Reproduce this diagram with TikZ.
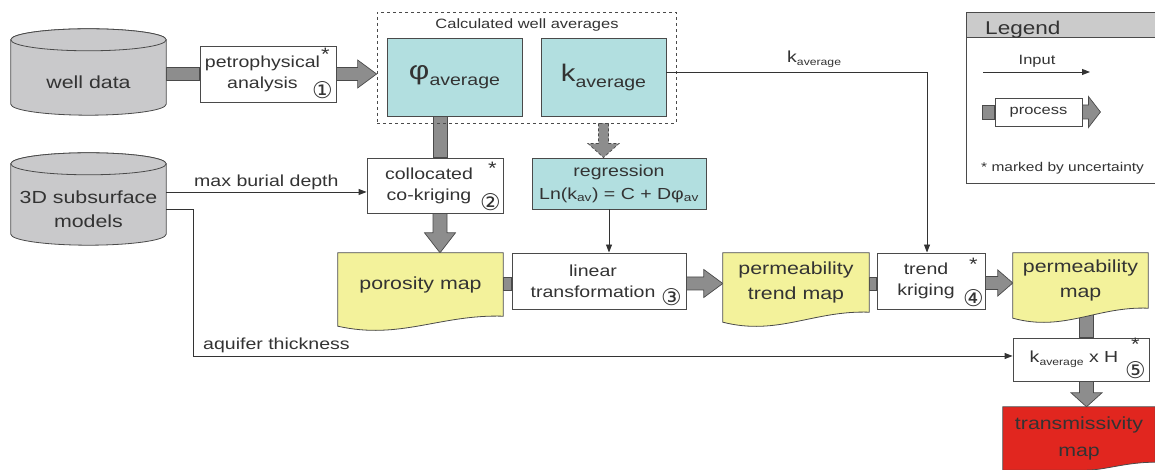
\documentclass[tikz,border=0pt]{standalone}
\usepackage{fontspec}
\setmainfont{Liberation Sans}[FakeStretch=1.22]
\newfontfamily\symf{DejaVu Sans}
\usetikzlibrary{calc,arrows.meta}
\pgfdeclarelayer{bg}
\pgfsetlayers{bg,main}
\definecolor{lc}{HTML}{4A4A4A}
\definecolor{tc}{HTML}{333333}
\definecolor{fatc}{HTML}{8D8D8D}
\definecolor{cylc}{HTML}{C9C9CB}
\definecolor{cyanc}{HTML}{B2DFE0}
\definecolor{yelc}{HTML}{F3F29B}
\definecolor{redc}{HTML}{E1261F}
\definecolor{legc}{HTML}{CBCBCB}
\newcommand{\fsz}[2]{\fontsize{#1}{#2}\selectfont}
\newcommand{\FatArrR}[5]{\draw[fat] let \p1=#1, \p2=#2 in (\x1,{\y2+#3}) -- ({\x2-#5},{\y2+#3}) -- ({\x2-#5},{\y2+#4}) -- (\x2,\y2) -- ({\x2-#5},{\y2-#4}) -- ({\x2-#5},{\y2-#3}) -- (\x1,{\y2-#3}) -- cycle;}
\newcommand{\FatArrD}[6][]{\draw[fat,#1] let \p1=#2, \p2=#3 in ({\x2+#4},\y1) -- ({\x2+#4},{\y2+#6}) -- ({\x2+#5},{\y2+#6}) -- (\x2,\y2) -- ({\x2-#5},{\y2+#6}) -- ({\x2-#4},{\y2+#6}) -- ({\x2-#4},\y1) -- cycle;}
\newcommand{\FatBarR}[3]{\draw[fat] let \p1=#1, \p2=#2 in (\x1,{\y2-#3}) rectangle (\x2,{\y2+#3});}
\newcommand{\FatBarD}[3]{\draw[fat] let \p1=#1, \p2=#2 in ({\x2-#3},\y1) rectangle ({\x2+#3},\y2);}
\newcommand{\CylShape}[1]{%
  \draw[cylsty] let \p1=(#1.north west), \p2=(#1.south east) in
    (\x1,{\y1-11pt}) -- (\x1,{\y2+11pt}) arc[start angle=180,end angle=360,x radius={(\x2-\x1)/2},y radius=11pt]
    -- (\x2,{\y1-11pt}) arc[start angle=0,end angle=180,x radius={(\x2-\x1)/2},y radius=11pt] -- cycle;
  \draw[cylsty] let \p1=(#1.north west), \p2=(#1.north east) in
    ({(\x1+\x2)/2},{\y1-11pt}) ellipse[x radius={(\x2-\x1)/2},y radius=11pt];}
\newcommand{\DocShape}[2]{%
  \draw[draw=lc,line width=0.8pt,fill=#2] let \p1=(#1.south west), \p2=(#1.south east) in
    (#1.north west) -- (#1.north east) -- (#1.south east)
    .. controls ({0.62*\x2+0.38*\x1},{\y2+2pt}) and ({0.625*\x1+0.375*\x2},{\y1-24pt}) .. (\x1,{\y1-10pt}) -- cycle;}
\tikzset{
  txt/.style={inner sep=0pt,align=center,text=tc},
  pbox/.style={txt,draw=lc,line width=0.9pt,fill=white,font=\fsz{16}{21}},
  cbox/.style={pbox,fill=cyanc},
  cn/.style={txt,font={\symf\fsz{23}{23}}},
  ast/.style={txt,font=\fsz{18}{18}},
  fat/.style={fill=fatc,draw=lc,line width=0.7pt,line join=miter},
  cylsty/.style={fill=cylc,draw=lc,line width=0.8pt},
  input/.style={draw=tc,line width=0.9pt,-{Triangle[length=8pt,width=6pt]}},
}
\begin{document}
\begin{tikzpicture}[x=1pt,y=1pt]
\useasboundingbox (0,0) rectangle (1155,470);
% ---- nodes ----
\node[txt,minimum width=155pt,minimum height=86pt] (wd) at (88.5,398) {};
\node[txt,font=\fsz{17.5}{24}] (wdt) at (88.5,388) {well data};
\node[txt,minimum width=155pt,minimum height=92pt] (sm) at (88.5,271) {};
\node[txt,font=\fsz{17.5}{24}] (smt) at (88.5,261) {3D subsurface\\models};

\node[pbox,minimum width=136pt,minimum height=56pt] (pa) at (268,396) {petrophysical\hspace*{11pt}\\analysis\hspace*{11pt}};
\node[draw=lc,dashed,line width=0.8pt,minimum width=299pt,minimum height=111pt,inner sep=0pt] (cwa) at (526.5,402.5) {};
\node[txt,font=\fsz{13.5}{15}] (cwat) at (527,445) {Calculated well averages};
\node[cbox,minimum width=135pt,minimum height=78pt,font=\fsz{26}{28}] (phi) at (454.5,393) {φ\raisebox{-6pt}{\fsz{16}{16}average}};
\node[cbox,minimum width=125pt,minimum height=78pt,font=\fsz{24}{28}] (kav) at (603.5,393) {k\raisebox{-6pt}{\fsz{16}{16}average}};
\node[txt,anchor=base west,font=\fsz{16}{16}] (klab) at (787,407) {k\raisebox{-3pt}{\fsz{10}{10}average}};

\node[pbox,minimum width=136pt,minimum height=55pt] (ck) at (435,284.5) {collocated\hspace*{12pt}\\co-kriging\hspace*{12pt}};
\node[cbox,minimum width=174pt,minimum height=51pt,font=\fsz{16}{23}] (reg) at (619,286.5) {regression\\Ln(k\textsubscript{av}) = C + Dφ\textsubscript{av}};

\node[txt,minimum width=165pt,minimum height=63pt,font=\fsz{17.5}{24}] (pm) at (420.5,185.5) {porosity map};
\node[pbox,minimum width=174pt,minimum height=56pt] (lt) at (599,189) {linear\hspace*{12pt}\\transformation\hspace*{12pt}};
\node[txt,minimum width=146pt,minimum height=59pt,font=\fsz{17.5}{25}] (ptm) at (796,187.5) {permeability\\trend map};
\node[pbox,minimum width=108pt,minimum height=56pt] (tk) at (931,189) {trend\hspace*{10pt}\\kriging\hspace*{10pt}};
\node[txt,minimum width=135pt,minimum height=55pt,font=\fsz{17.5}{25}] (pmap) at (1080.5,189.5) {permeability\\map};
\node[pbox,minimum width=136pt,minimum height=43pt] (kh) at (1081,110.5) {k\raisebox{-3pt}{\fsz{10}{10}average} x H\hspace*{14pt}};
\node[txt,minimum width=152pt,minimum height=63pt,font=\fsz{17.5}{27}] (tm) at (1079,31.5) {transmissivity\\map};

% circled numbers and asterisks
\node[cn] (c1) at ($(pa.south east)+(-14,12)$) {①};
\node[ast] (s1) at ($(pa.north east)+(-11,-9)$) {*};
\node[cn] (c2) at ($(ck.south east)+(-13,11)$) {②};
\node[ast] (s2) at ($(ck.north east)+(-11,-11)$) {*};
\node[cn] (c3) at ($(lt.south east)+(-15,12)$) {③};
\node[cn] (c4) at ($(tk.south east)+(-12,11)$) {④};
\node[ast] (s4) at ($(tk.north east)+(-12,-12)$) {*};
\node[cn] (c5) at ($(kh.south east)+(-14,11)$) {⑤};
\node[ast] (s5) at ($(kh.north east)+(-14,-7)$) {*};

% legend
\draw[draw=lc,line width=0.8pt,fill=legc] (1155,433) -- (966,433) -- (966,458) -- (1155,458);
\draw[draw=lc,line width=0.8pt] (966,433) -- (966,287) -- (1155,287);
\node[txt,anchor=west,font=\fsz{18.5}{20}] (legt) at (985,440) {Legend};
\node[txt,font=\fsz{13.5}{15}] (inp) at (1037,409) {Input};
\coordinate (li1) at (983,398);
\coordinate (li2) at (1090,398);
\draw[input] (li1) -- (li2);
\node[pbox,minimum width=87pt,minimum height=28pt,font=\fsz{13.5}{15}] (proc) at (1038.5,358) {process};
\node[txt,anchor=west,font=\fsz{12.7}{14}] (unc) at (981,302) {* marked by uncertainty};

% thin input connectors
\draw[input] ($(kav.east)+(0,5)$) -| ($(tk.north)+(-4,0)$);
\coordinate (r1) at ($(reg.south)+(-10,0)$);
\draw[input] (r1) -- (r1 |- lt.north);
\coordinate (m1) at ($(sm.east)+(0,7)$);
\draw[input] (m1) -- (m1 -| ck.west) node[txt,midway,above=2pt,font=\fsz{16}{16}] (mbd) {max burial depth};
\coordinate (a1) at ($(sm.east)+(0,-10)$);
\coordinate (kh1) at ($(kh.west)+(0,3.5)$);
\draw[input] (a1) -- ++(27,0) |- (kh1);
\node[txt,anchor=base west,font=\fsz{16}{16}] (aqt) at (203,120) {aquifer thickness};

% ---- background: fat arrows, then shapes ----
\begin{pgfonlayer}{bg}
\FatBarR{(wd.east)}{(pa.west)}{6.5pt}
\FatArrR{(pa.east)}{(pa.east -| cwa.west)}{6.5pt}{14pt}{19pt}
\FatBarD{(phi.south)}{($(ck.north)+(5,0)$)}{7pt}
\FatArrD{($(ck.south)+(5,0)$)}{($(pm.north)+(19.5,0)$)}{7pt}{15.5pt}{20pt}
\FatArrD[dash pattern=on 3pt off 2pt]{(kav.south |- cwa.south)}{(kav.south |- reg.north)}{5pt}{15.5pt}{14pt}
\FatBarR{(pm.east)}{($(lt.west)+(0,-2.5)$)}{6.5pt}
\FatArrR{(lt.east)}{($(ptm.west)+(0,-1)$)}{6.5pt}{14pt}{19pt}
\FatBarR{(ptm.east)}{($(tk.west)+(0,-2.5)$)}{6.5pt}
\FatArrR{(tk.east)}{($(pmap.west)+(0,-2.5)$)}{6.5pt}{13pt}{15pt}
\FatBarD{(pmap.south)}{($(kh.north)+(5,0)$)}{7pt}
\FatArrD{($(kh.south)+(5.5,0)$)}{($(tm.north)+(7.5,0)$)}{7pt}{15.5pt}{14pt}
\FatBarR{($(proc.west)+(-12,0)$)}{(proc.west)}{7pt}
\FatArrR{(proc.east)}{($(proc.east)+(18,0)$)}{7pt}{15.5pt}{12pt}
\CylShape{wd}
\CylShape{sm}
\DocShape{pm}{yelc}
\DocShape{ptm}{yelc}
\DocShape{pmap}{yelc}
\draw[draw=lc,line width=0.8pt,fill=redc] (tm.south west) -- (tm.north west) -- (tm.north east) -- ($(tm.south east)+(0,8)$)
  .. controls ($(tm.south east)+(-30,8)$) and ($(tm.south east)+(-50,0)$) .. ($(tm.south east)+(-70,0)$) -- cycle;
\end{pgfonlayer}
\end{tikzpicture}
\end{document}
